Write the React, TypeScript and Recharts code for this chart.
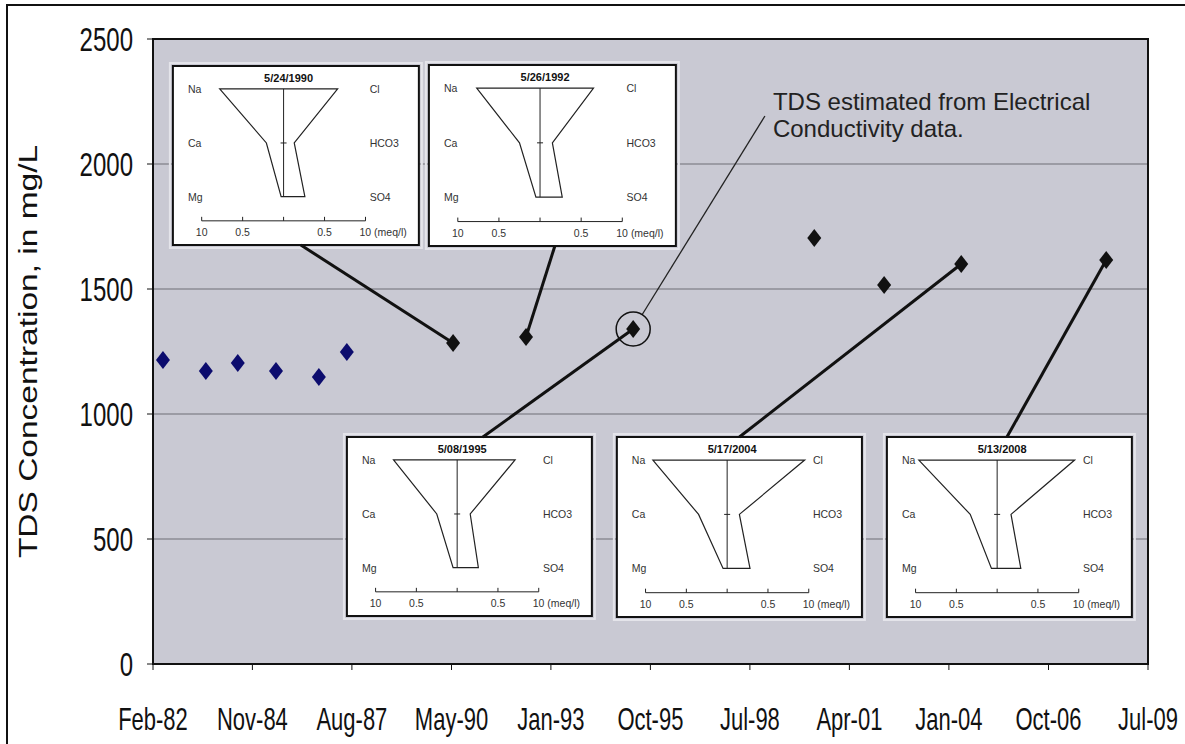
import React from 'react';
import {
  ScatterChart,
  Scatter,
  XAxis,
  YAxis,
  CartesianGrid,
  ReferenceArea,
  ReferenceLine,
  ReferenceDot,
} from 'recharts';

// Date axis (Excel-style serial days), labels every 1000 days
const xTickDates = [
  '1982-02-19', '1984-11-14', '1987-08-11', '1990-05-08', '1993-01-31', '1995-10-28',
  '1998-07-24', '2001-04-19', '2004-01-14', '2006-10-11', '2009-07-07',
];
const xTickLabels = [
  'Feb-82', 'Nov-84', 'Aug-87', 'May-90', 'Jan-93', 'Oct-95',
  'Jul-98', 'Apr-01', 'Jan-04', 'Oct-06', 'Jul-09',
];
const yTicks = [0, 500, 1000, 1500, 2000, 2500];

// TDS samples, 1982-1987 (blue)
const earlyDates = ['1982-05-30', '1983-08-04', '1984-06-20', '1985-07-09', '1986-09-13', '1987-06-21'];
const earlyTds = [1216, 1172, 1204, 1172, 1148, 1248];

// TDS samples, 1990-2008 (black)
const laterDates = ['1990-05-24', '1992-05-26', '1995-05-08', '2000-05-01', '2002-04-03', '2004-05-17', '2008-05-13'];
const laterTds = [1284, 1308, 1340, 1704, 1516, 1600, 1616];

// Stiff diagrams (meq/l)
const stiffDates = ['1990-05-24', '1992-05-26', '1995-05-08', '2004-05-17', '2008-05-13'];
const stiffTitles = ['5/24/1990', '5/26/1992', '5/08/1995', '5/17/2004', '5/13/2008'];
const naValues = [7.8, 7.7, 7.8, 9.1, 9.6];
const caValues = [2.1, 2.5, 2.5, 3.5, 3.3];
const mgValues = [0.3, 0.5, 0.5, 0.5, 0.7];
const clValues = [6.6, 6.5, 7.1, 9.5, 9.5];
const hco3Values = [1.3, 1.5, 1.6, 1.5, 1.7];
const so4Values = [2.6, 2.7, 2.6, 2.8, 2.9];
const stiffScaleLabels = ['10', '0.5', '', '0.5', '10 (meq/l)'];

const estimatedDate = '1995-05-08';
const noteLines = ['TDS estimated from Electrical', 'Conductivity data.'];

// where the insets sit, in axis units (serial day, mg/L)
const insetPlacement = [
  { x1: 30201, x2: 32673, y1: 1676, y2: 2392, attach: 0.52, below: false },
  { x1: 32774, x2: 35256, y1: 1672, y2: 2396, attach: 0.51, below: false },
  { x1: 31950, x2: 34412, y1: 192, y2: 908, attach: 0.555, below: true },
  { x1: 34663, x2: 37126, y1: 188, y2: 908, attach: 0.5, below: true },
  { x1: 37377, x2: 39839, y1: 188, y2: 908, attach: 0.49, below: true },
];
const notePlacement = { from: [34915, 1396], to: [36151, 2192] };

const FONT = '"Liberation Sans", Arial, sans-serif';
const W = 1185;
const H = 744;
const M = { top: 39, right: 37, bottom: 0, left: 0 };
const Y_AXIS_W = 153;
const X_AXIS_H = 80;

const toSerial = (iso: string) =>
  (Date.parse(iso + 'T00:00:00Z') - Date.UTC(1899, 11, 30)) / 86400000;

const xTicks = xTickDates.map(toSerial);
const earlyData = earlyDates.map((d, i) => ({ x: toSerial(d), y: earlyTds[i] }));
const laterData = laterDates.map((d, i) => ({ x: toSerial(d), y: laterTds[i] }));
const tdsAt = (iso: string) => laterTds[laterDates.indexOf(iso)];

const Diamond = (color: string) => (props: any) => {
  const { cx, cy } = props;
  if (cx == null || cy == null) return <g />;
  return (
    <polygon
      points={`${cx},${cy - 9} ${cx + 7},${cy} ${cx},${cy + 9} ${cx - 7},${cy}`}
      fill={color}
    />
  );
};

const XTick = ({ x, y, payload }: any) => {
  const idx = xTicks.findIndex((t) => Math.abs(t - payload.value) < 0.5);
  return (
    <g transform={`translate(${x},${y}) scale(1,1.42)`}>
      <text x={0} y={15.8} textAnchor="middle" fontSize={22} fontFamily={FONT} fill="#111">
        {idx >= 0 ? xTickLabels[idx] : ''}
      </text>
    </g>
  );
};

const YTick = ({ x, y, payload }: any) => (
  <g transform={`translate(${x},${y}) scale(1,1.4)`}>
    <text x={0} y={0} dy={8.6} textAnchor="end" fontSize={24} fontFamily={FONT} fill="#111">
      {payload.value}
    </text>
  </g>
);

const YLabel = ({ viewBox }: any) => {
  const cy = viewBox.y + viewBox.height / 2;
  return (
    <g transform={`translate(${viewBox.x + 28},${cy}) rotate(-90) scale(1.34,1)`}>
      <text x={0} y={0} dy={9} textAnchor="middle" fontSize={25} fontFamily={FONT} fill="#111">
        TDS Concentration, in mg/L
      </text>
    </g>
  );
};

// one Stiff diagram drawn inside the inset box
const StiffInset = ({ x, y, width: w, height: h, i }: any) => {
  const cx = x + 0.45 * w;
  const s = (0.333 * w) / 10;
  const yNa = y + 0.128 * h;
  const yCa = y + 0.43 * h;
  const yMg = y + 0.73 * h;
  const yAx = y + 0.865 * h;
  const yLab = y + 0.95 * h;
  const pts = [
    [cx - naValues[i] * s, yNa],
    [cx - caValues[i] * s, yCa],
    [cx - mgValues[i] * s, yMg],
    [cx + so4Values[i] * s, yMg],
    [cx + hco3Values[i] * s, yCa],
    [cx + clValues[i] * s, yNa],
  ]
    .map((p) => p.join(','))
    .join(' ');
  const tickVals = [-10, -5, 0, 5, 10];
  const small = { fontSize: 10.5, fontFamily: FONT, fill: '#333' };
  return (
    <g>
      <rect x={x - 3} y={y - 3} width={w + 6} height={h + 6} fill="none" stroke="#e4e4ea" strokeWidth={2} />
      <rect x={x} y={y} width={w} height={h} fill="#fff" stroke="#111" strokeWidth={2} />
      <text x={cx + 5} y={y + 0.09 * h} textAnchor="middle" fontSize={11} fontWeight="bold" fontFamily={FONT} fill="#111">
        {stiffTitles[i]}
      </text>
      {['Na', 'Ca', 'Mg'].map((t, k) => (
        <text key={t} x={x + 15} y={[yNa, yCa, yMg][k] + 4} {...small}>{t}</text>
      ))}
      {['Cl', 'HCO3', 'SO4'].map((t, k) => (
        <text key={t} x={x + 0.8 * w} y={[yNa, yCa, yMg][k] + 4} {...small}>{t}</text>
      ))}
      <polygon points={pts} fill="none" stroke="#222" strokeWidth={1.2} />
      <line x1={cx} y1={yNa} x2={cx} y2={yMg} stroke="#222" strokeWidth={1} />
      <line x1={cx - 3} y1={yCa} x2={cx + 3} y2={yCa} stroke="#222" strokeWidth={1} />
      <line x1={cx - 10 * s} y1={yAx} x2={cx + 10 * s} y2={yAx} stroke="#222" strokeWidth={1} />
      {tickVals.map((v, k) => (
        <g key={v}>
          <line x1={cx + v * s} y1={yAx - 4} x2={cx + v * s} y2={yAx} stroke="#222" strokeWidth={1} />
          <text
            x={k === 4 ? cx + v * s - 6 : cx + v * s}
            y={yLab}
            textAnchor={k === 4 ? 'start' : 'middle'}
            {...small}
          >
            {stiffScaleLabels[k]}
          </text>
        </g>
      ))}
    </g>
  );
};

const NoteText = ({ cx, cy }: any) => (
  <g>
    {noteLines.map((t, k) => (
      <text key={k} x={cx + 8} y={cy - 6 + k * 27} fontSize={24} fontFamily={FONT} fill="#222">
        {t}
      </text>
    ))}
  </g>
);

export default function App() {
  const [x0, x1] = [xTicks[0], xTicks[xTicks.length - 1]];
  const frame = { stroke: '#111', strokeWidth: 2 };
  // plot area box, from the margins and axis sizes given to the chart
  const plotLeft = M.left + Y_AXIS_W;
  const plotTop = M.top;
  const plotW = W - M.right - plotLeft;
  const plotH = H - M.bottom - X_AXIS_H - plotTop;
  return (
    <div style={{ position: 'fixed', left: 0, top: 0, width: W, height: H, overflow: 'hidden', background: '#fff' }}>
      <div
        style={{
          position: 'absolute',
          left: 6,
          top: 4,
          width: 1250,
          height: 800,
          border: '2px solid #111',
          boxSizing: 'border-box',
        }}
      />
      <div style={{ position: 'absolute', left: 0, top: 0 }}>
        <ScatterChart width={W} height={H} margin={M}>
          <CartesianGrid vertical={false} fill="#c9c9d3" stroke="#6e6e76" strokeWidth={1.2} />
          <XAxis
            type="number"
            dataKey="x"
            domain={[x0, x1]}
            ticks={xTicks}
            interval={0}
            height={X_AXIS_H}
            tickSize={6}
            tickMargin={38}
            tick={<XTick />}
            axisLine={frame}
            tickLine={{ stroke: '#111' }}
            allowDataOverflow
          />
          <YAxis
            type="number"
            dataKey="y"
            domain={[0, 2500]}
            ticks={yTicks}
            width={Y_AXIS_W}
            tickSize={6}
            tickMargin={14}
            tick={<YTick />}
            axisLine={frame}
            tickLine={{ stroke: '#111' }}
            label={<YLabel />}
            allowDataOverflow
          />

          {insetPlacement.map((b, i) => {
            const ax = b.x1 + b.attach * (b.x2 - b.x1);
            const ay = b.below ? b.y2 : b.y1;
            return (
              <ReferenceLine
                key={`c${i}`}
                segment={[{ x: ax, y: ay }, { x: toSerial(stiffDates[i]), y: tdsAt(stiffDates[i]) }]}
                stroke="#111"
                strokeWidth={3}
                ifOverflow="visible"
              />
            );
          })}
          {insetPlacement.map((b, i) => (
            <ReferenceArea
              key={`b${i}`}
              x1={b.x1}
              x2={b.x2}
              y1={b.y1}
              y2={b.y2}
              ifOverflow="visible"
              shape={(p: any) => <StiffInset {...p} i={i} />}
            />
          ))}

          <ReferenceLine
            segment={[
              { x: notePlacement.from[0], y: notePlacement.from[1] },
              { x: notePlacement.to[0], y: notePlacement.to[1] },
            ]}
            stroke="#222"
            strokeWidth={1.3}
            ifOverflow="visible"
          />
          <ReferenceDot
            x={toSerial(estimatedDate)}
            y={tdsAt(estimatedDate)}
            r={17}
            fill="none"
            stroke="#111"
            strokeWidth={1.5}
            ifOverflow="visible"
          />
          <ReferenceDot
            x={notePlacement.to[0]}
            y={notePlacement.to[1]}
            r={0}
            ifOverflow="visible"
            shape={(p: any) => <NoteText {...p} />}
          />

          <Scatter data={earlyData} fill="#0c0c6e" shape={Diamond('#0c0c6e')} isAnimationActive={false} />
          <Scatter data={laterData} fill="#111" shape={Diamond('#111')} isAnimationActive={false} />
        </ScatterChart>
      </div>
      {/* plot-area frame */}
      <div
        style={{
          position: 'absolute',
          left: plotLeft - 1,
          top: plotTop - 1,
          width: plotW + 2,
          height: plotH + 2,
          border: '2px solid #111',
          boxSizing: 'border-box',
          pointerEvents: 'none',
        }}
      />
    </div>
  );
}
